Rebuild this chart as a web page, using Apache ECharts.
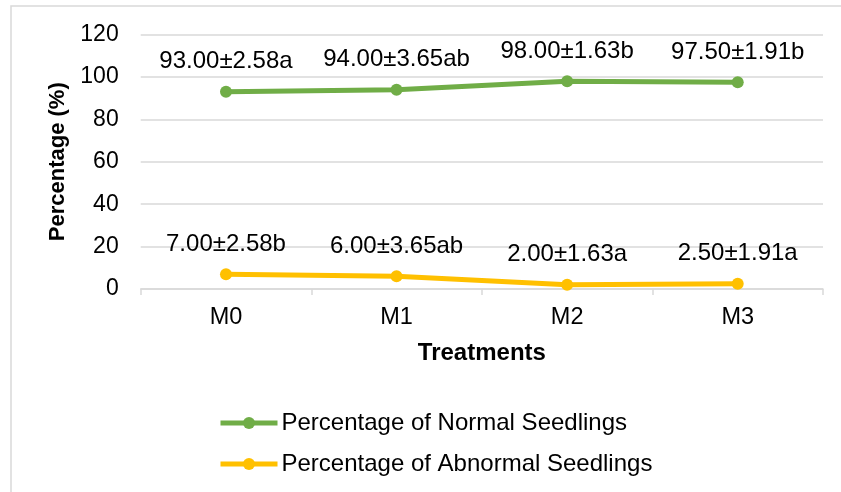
<!DOCTYPE html>
<html>
<head>
<meta charset="utf-8">
<script src="https://cdn.jsdelivr.net/npm/echarts@6/dist/echarts.min.js"></script>
<style>html,body{margin:0;padding:0;background:#fff}#c{width:841px;height:492px}</style>
</head>
<body>
<div id="c"></div>
<script>
var categories = ['M0', 'M1', 'M2', 'M3'];
var normalValues = [93.0, 94.0, 98.0, 97.5];
var normalLabels = ['93.00±2.58a', '94.00±3.65ab', '98.00±1.63b', '97.50±1.91b'];
var abnormalValues = [7.0, 6.0, 2.0, 2.5];
var abnormalLabels = ['7.00±2.58b', '6.00±3.65ab', '2.00±1.63a', '2.50±1.91a'];
var seriesNames = ['Percentage of Normal Seedlings', 'Percentage of Abnormal Seedlings'];

var FONT = 'Arial, "Liberation Sans", sans-serif';
var chart = echarts.init(document.getElementById('c'), null, {renderer: 'canvas'});

function mkSeries(name, values, labels, color) {
  return {
    name: name,
    type: 'line',
    data: values,
    symbol: 'circle',
    symbolSize: 12,
    lineStyle: {color: color, width: 5},
    itemStyle: {color: color},
    label: {
      show: true,
      position: 'top',
      distance: 12,
      color: '#000',
      fontFamily: FONT,
      fontSize: 24,
      formatter: function (p) { return labels[p.dataIndex]; }
    },
    animation: false
  };
}

chart.setOption({
  backgroundColor: '#fff',
  animation: false,
  graphic: [{
    type: 'rect',
    shape: {x: 11, y: 6, width: 900, height: 600},
    style: {fill: 'none', stroke: '#d9d9d9', lineWidth: 1.5},
    silent: true,
    z: -1
  }],
  grid: {left: 140.7, right: 18, top: 34.5, bottom: 203, containLabel: false},
  legend: {
    orient: 'vertical',
    left: 213,
    top: 406,
    itemWidth: 57,
    itemHeight: 15,
    itemGap: 17,
    data: seriesNames,
    lineStyle: {width: 5},
    textStyle: {color: '#000', fontFamily: FONT, fontSize: 24, padding: [0, 0, 0, -1]}
  },
  xAxis: {
    type: 'category',
    data: categories,
    boundaryGap: true,
    name: 'Treatments',
    nameLocation: 'middle',
    nameGap: 52,
    nameTextStyle: {color: '#000', fontFamily: FONT, fontSize: 24, fontWeight: 'bold'},
    axisLine: {lineStyle: {color: '#d9d9d9', width: 1.5}},
    axisTick: {show: true, length: 6, lineStyle: {color: '#d9d9d9', width: 1.5}},
    axisLabel: {color: '#000', fontFamily: FONT, fontSize: 23.5, margin: 17}
  },
  yAxis: {
    type: 'value',
    min: 0,
    max: 120,
    interval: 20,
    name: 'Percentage (%)',
    nameLocation: 'middle',
    nameRotate: 90,
    nameGap: 72,
    nameTextStyle: {color: '#000', fontFamily: FONT, fontSize: 22, fontWeight: 'bold'},
    axisLine: {show: false},
    axisTick: {show: false},
    splitLine: {lineStyle: {color: '#d9d9d9', width: 1.5}},
    axisLabel: {color: '#000', fontFamily: FONT, fontSize: 23, margin: 22}
  },
  series: [
    mkSeries(seriesNames[0], normalValues, normalLabels, '#70AD47'),
    mkSeries(seriesNames[1], abnormalValues, abnormalLabels, '#FFC000')
  ]
});
</script>
</body>
</html>
